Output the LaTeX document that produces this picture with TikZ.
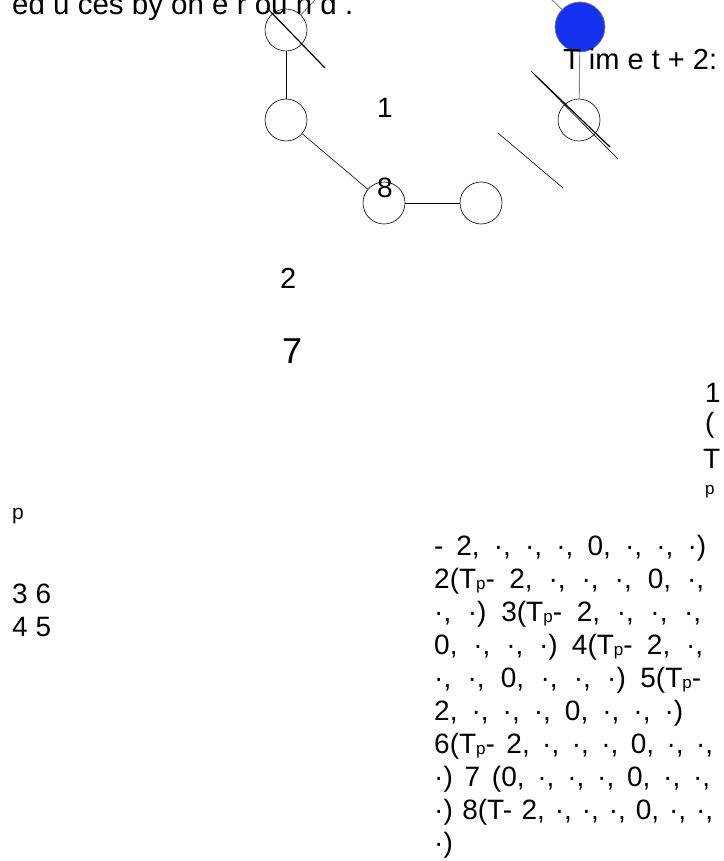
\documentclass[tikz,border=0pt]{standalone}
\usepackage{fontspec}
\setmainfont{Liberation Sans}
\definecolor{nodeblue}{RGB}{20,50,240}
\newcommand{\Tsub}{T\raisebox{-1pt}{\fontsize{17}{17}\selectfont p}}
\newcommand{\jline}[2]{\hbox to #1{\spaceskip=7.8pt plus 1fil\relax #2}}
\begin{document}
\begin{tikzpicture}[x=1pt, y=-1pt,
    vertex/.style={draw, circle, minimum size=42pt, inner sep=0pt, line width=0.6pt},
    active/.style={vertex, fill=nodeblue, draw=gray, minimum size=50pt},
    lbl/.style={inner sep=0pt, anchor=base west, font=\fontsize{28}{33}\selectfont},
    link/.style={line width=0.6pt},
    greylink/.style={gray, line width=0.9pt},
    cut/.style={line width=1.2pt}]
    \useasboundingbox (0,0) rectangle (723,861);
    % Vertices
    \node[vertex] (a) at (286,30) {};
    \node[vertex] (b) at (286,120) {};
    \node[vertex] (c) at (384,203) {};
    \node[vertex] (d) at (481,203) {};
    \node[active] (u) at (580,27) {};
    \node[vertex] (v) at (579,120) {};
    % Edges
    \draw[link] (a) -- (b);
    \draw[link] (b) -- (c);
    \draw[link] (c) -- (d);
    \draw[greylink] (u) -- (v);
    \coordinate (aup) at (317,-2);
    \coordinate (uup) at (550,-2);
    \draw[greylink] (a) -- (aup);
    \draw[greylink] (u) -- (uup);
    % Strokes across the vertices
    \coordinate (s1) at (267,8);
    \coordinate (s2) at (325,68);
    \draw[cut] (s1) -- (s2);
    \coordinate (s3) at (531,71);
    \coordinate (s4) at (618,159);
    \coordinate (s5) at (535,75);
    \coordinate (s6) at (610,147);
    \draw[link] (s3) -- (s4);
    \draw[cut] (s5) -- (s6);
    \coordinate (s7) at (498,133);
    \coordinate (s8) at (563,188);
    \draw[link] (s7) -- (s8);
    % Labels
    \node[lbl, font=\fontsize{29.5}{33}\selectfont] (title) at (12,15) {ed u ces by on e r ou n d .};
    \node[lbl, font=\fontsize{29}{33}\selectfont] (time) at (563,70) {T im e t + 2:};
    \node[lbl] (n1) at (377,118) {1};
    \node[lbl] (n8) at (377,197) {8};
    \node[lbl, font=\fontsize{29}{33}\selectfont] (n2) at (280,288) {2};
    \node[lbl, font=\fontsize{36}{40}\selectfont] (n7) at (282,363) {7};
    \node[lbl, font=\fontsize{21}{24}\selectfont] (pl) at (12,519) {p};
    \node[lbl] (n36) at (12,603) {3 6};
    \node[lbl] (n45) at (12,636) {4 5};
    \node[lbl] (c1) at (705,402) {1};
    \node[lbl] (c2) at (705,432) {(};
    \node[lbl] (c3) at (703,468) {T};
    \node[lbl, font=\fontsize{17}{20}\selectfont] (c4) at (705,494) {p};
    % Tuples
    \node[lbl, align=left, anchor=north west] (tuples) at (434,535) {%
      \jline{272pt}{- 2, ·, ·, ·, 0, ·, ·, ·)}\\
      \jline{270pt}{2(\Tsub- 2, ·, ·, ·, 0, ·,}\\
      \jline{267pt}{·, ·) 3(\Tsub- 2, ·, ·, ·,}\\
      \jline{269pt}{0, ·, ·, ·) 4(\Tsub- 2, ·,}\\
      \jline{267pt}{·, ·, 0, ·, ·, ·) 5(\Tsub-}\\
      \jline{249pt}{2, ·, ·, ·, 0, ·, ·, ·)}\\
      \jline{279pt}{6(\Tsub- 2, ·, ·, ·, 0, ·, ·,}\\
      \jline{276pt}{·) 7 (0, ·, ·, ·, 0, ·, ·,}\\
      \jline{279pt}{·) 8(T- 2, ·, ·, ·, 0, ·, ·,}\\
      ·)};
\end{tikzpicture}
\end{document}
